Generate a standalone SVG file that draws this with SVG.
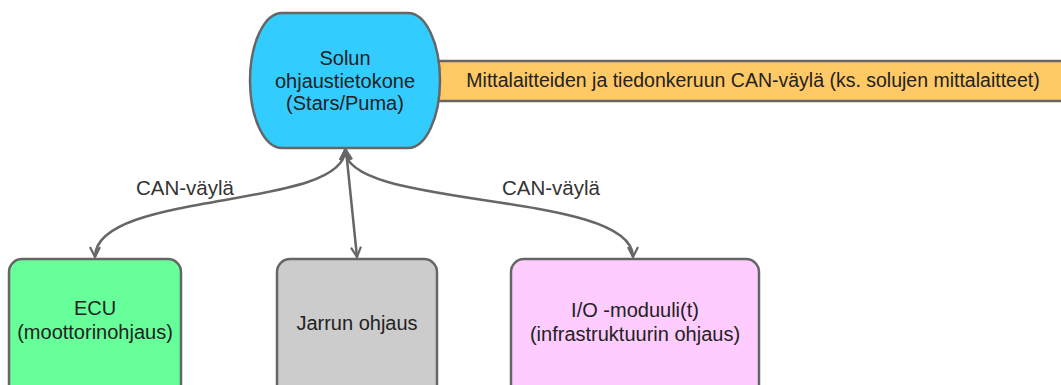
<svg xmlns="http://www.w3.org/2000/svg" width="1061" height="385" viewBox="0 0 1061 385">
<style>
.node{stroke:#666666;stroke-width:2.5}
.t{font-family:"Liberation Sans",Arial,sans-serif;font-size:20px;fill:#222222;text-anchor:middle}
.lbl{font-family:"Liberation Sans",Arial,sans-serif;font-size:20.5px;fill:#333333;text-anchor:middle}
.conn{fill:none;stroke:#666666;stroke-width:2.5}
</style>
<defs>
<marker id="ah" viewBox="0 0 12 12" refX="11" refY="6" markerWidth="12" markerHeight="12" markerUnits="userSpaceOnUse" orient="auto-start-reverse">
<path d="M1,1 L11,6 L1,11" fill="none" stroke="#666666" stroke-width="2.2"/>
</marker>
</defs>
<rect width="1061" height="385" fill="#ffffff"/>
<g id="bus">
<rect class="node" x="425" y="61" width="645" height="40" fill="#FFC966"/>
<text class="t" x="753" y="87" style="font-size:19.5px">Mittalaitteiden ja tiedonkeruun CAN-väylä (ks. solujen mittalaitteet)</text>
</g>
<g id="connectors">
<path class="conn" d="M345,150 C345,210 95,190 95,257" marker-start="url(#ah)" marker-end="url(#ah)"/>
<path class="conn" d="M346,150 L357,257" marker-start="url(#ah)" marker-end="url(#ah)"/>
<path class="conn" d="M345,150 C345,210 633,190 633,257" marker-start="url(#ah)" marker-end="url(#ah)"/>
<text class="lbl" x="185" y="195">CAN-väylä</text>
<text class="lbl" x="551" y="195">CAN-väylä</text>
</g>
<g id="controller">
<path class="node" d="M282,13 H408 A32 67.5 0 0 1 408,148 H282 A32 67.5 0 0 1 282,13 Z" fill="#33CCFF"/>
<text class="t" x="345" y="65">Solun</text>
<text class="t" x="345" y="88">ohjaustietokone</text>
<text class="t" x="345" y="110">(Stars/Puma)</text>
</g>
<g id="ecu">
<rect class="node" x="9" y="259" width="172" height="140" rx="13" fill="#66FF99"/>
<text class="t" x="95" y="315">ECU</text>
<text class="t" x="95" y="339">(moottorinohjaus)</text>
</g>
<g id="brake">
<rect class="node" x="277" y="259" width="160" height="140" rx="13" fill="#CCCCCC"/>
<text class="t" x="357" y="330">Jarrun ohjaus</text>
</g>
<g id="io">
<rect class="node" x="511" y="259" width="248" height="140" rx="13" fill="#FFCCFF"/>
<text class="t" x="635" y="317">I/O -moduuli(t)</text>
<text class="t" x="635" y="341">(infrastruktuurin ohjaus)</text>
</g>
</svg>
